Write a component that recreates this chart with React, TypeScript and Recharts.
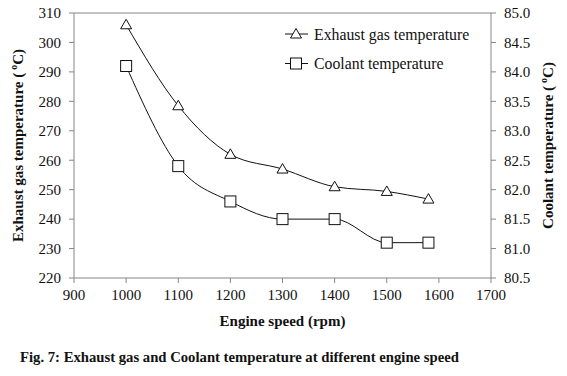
import React from 'react';
import { LineChart, Line, XAxis, YAxis, ReferenceLine } from 'recharts';

// engine speed (rpm) and the two measured temperatures
const speeds = [1000, 1100, 1200, 1300, 1400, 1500, 1580];
const exhaustTemp = [306, 278.5, 262, 257, 251, 249.4, 246.8];
const coolantTemp = [84.1, 82.4, 81.8, 81.5, 81.5, 81.1, 81.1];

const speedTicks = [900, 1000, 1100, 1200, 1300, 1400, 1500, 1600, 1700];
const exhaustTicks = [220, 230, 240, 250, 260, 270, 280, 290, 300, 310];
const coolantTicks = [80.5, 81, 81.5, 82, 82.5, 83, 83.5, 84, 84.5, 85];

const data = speeds.map((rpm, i) => ({ rpm, exhaust: exhaustTemp[i], coolant: coolantTemp[i] }));

const FONT = '"Liberation Serif", "Times New Roman", serif';
const AXIS = '#868686';
const INK = '#111';

const Triangle = ({ cx, cy }: { cx: number; cy: number }) => (
  <path d={`M${cx},${cy - 5.5}L${cx + 5.5},${cy + 4}L${cx - 5.5},${cy + 4}Z`} fill="#fff" stroke={INK} strokeWidth={1} />
);

const Square = ({ cx, cy }: { cx: number; cy: number }) => (
  <rect x={cx - 5.5} y={cy - 5.5} width={11} height={11} fill="#fff" stroke={INK} strokeWidth={1} />
);

const tickStyle = { fontFamily: FONT, fontSize: 15, fill: INK };

const rotatedTitle = (text: string, x: number) => (props: any) => {
  const vb = props.viewBox;
  const cy = vb.y + vb.height / 2;
  return (
    <text
      x={x}
      y={cy}
      transform={`rotate(-90, ${x}, ${cy})`}
      textAnchor="middle"
      dominantBaseline="central"
      fontFamily={FONT}
      fontWeight="bold"
      fontSize={15}
      fill={INK}
    >
      <tspan>{text}  (</tspan>
      <tspan fontSize={10} dx={3} dy={-5}>o</tspan>
      <tspan dy={5}>C)</tspan>
    </text>
  );
};

const LegendBox = () => {
  const items = [
    { label: 'Exhaust gas temperature', Icon: Triangle },
    { label: 'Coolant temperature', Icon: Square },
  ];
  return (
    <svg width={210} height={50} style={{ position: 'absolute', left: 284, top: 26 }}>
      {items.map(({ label, Icon }, i) => {
        const y = 8 + i * 29.5;
        return (
          <g key={label}>
            <line x1={1} x2={24} y1={y} y2={y} stroke={INK} strokeWidth={1} />
            <Icon cx={12} cy={y} />
            <text x={30} y={y} dominantBaseline="central" fontFamily={FONT} fontSize={15.8} fill={INK}>
              {label}
            </text>
          </g>
        );
      })}
    </svg>
  );
};

export default function App() {
  return (
    <div style={{ position: 'absolute', left: 0, top: 0, width: 567, height: 376, background: '#fff' }}>
      <LineChart width={567} height={376} data={data} margin={{ top: 13, right: 0, left: 0, bottom: 68 }}>
        <XAxis
          dataKey="rpm"
          type="number"
          domain={[900, 1700]}
          ticks={speedTicks}
          height={30}
          stroke={AXIS}
          tickSize={5}
          tickMargin={6}
          tick={tickStyle}
          label={(props: any) => {
            const vb = props.viewBox;
            return (
              <text
                x={vb.x + vb.width / 2}
                y={326}
                textAnchor="middle"
                fontFamily={FONT}
                fontWeight="bold"
                fontSize={15}
                fill={INK}
              >
                Engine  speed (rpm)
              </text>
            );
          }}
        />
        <YAxis
          yAxisId="left"
          domain={[220, 310]}
          ticks={exhaustTicks}
          width={74}
          stroke={AXIS}
          tickSize={5}
          tickMargin={8}
          tick={tickStyle}
          label={rotatedTitle('Exhaust  gas temperature', 18)}
        />
        <YAxis
          yAxisId="right"
          orientation="right"
          domain={[80.5, 85]}
          ticks={coolantTicks}
          tickFormatter={(v: number) => v.toFixed(1)}
          width={76}
          stroke={AXIS}
          tickSize={5}
          tickMargin={8}
          tick={tickStyle}
          label={rotatedTitle('Coolant temperature', 548)}
        />
        <ReferenceLine yAxisId="left" y={310} stroke={AXIS} />
        <Line
          yAxisId="left"
          dataKey="exhaust"
          type="monotone"
          stroke={INK}
          strokeWidth={1}
          dot={(p: any) => <Triangle key={`t-${p.index}`} cx={p.cx} cy={p.cy} />}
          activeDot={false}
          isAnimationActive={false}
        />
        <Line
          yAxisId="right"
          dataKey="coolant"
          type="monotone"
          stroke={INK}
          strokeWidth={1}
          dot={(p: any) => <Square key={`s-${p.index}`} cx={p.cx} cy={p.cy} />}
          activeDot={false}
          isAnimationActive={false}
        />
      </LineChart>
      <LegendBox />
      <div
        style={{
          position: 'absolute',
          left: 20,
          top: 349,
          fontFamily: FONT,
          fontWeight: 'bold',
          fontSize: 14.7,
          color: INK,
          whiteSpace: 'nowrap',
        }}
      >
        Fig. 7: Exhaust gas and Coolant temperature at different engine speed
      </div>
    </div>
  );
}
